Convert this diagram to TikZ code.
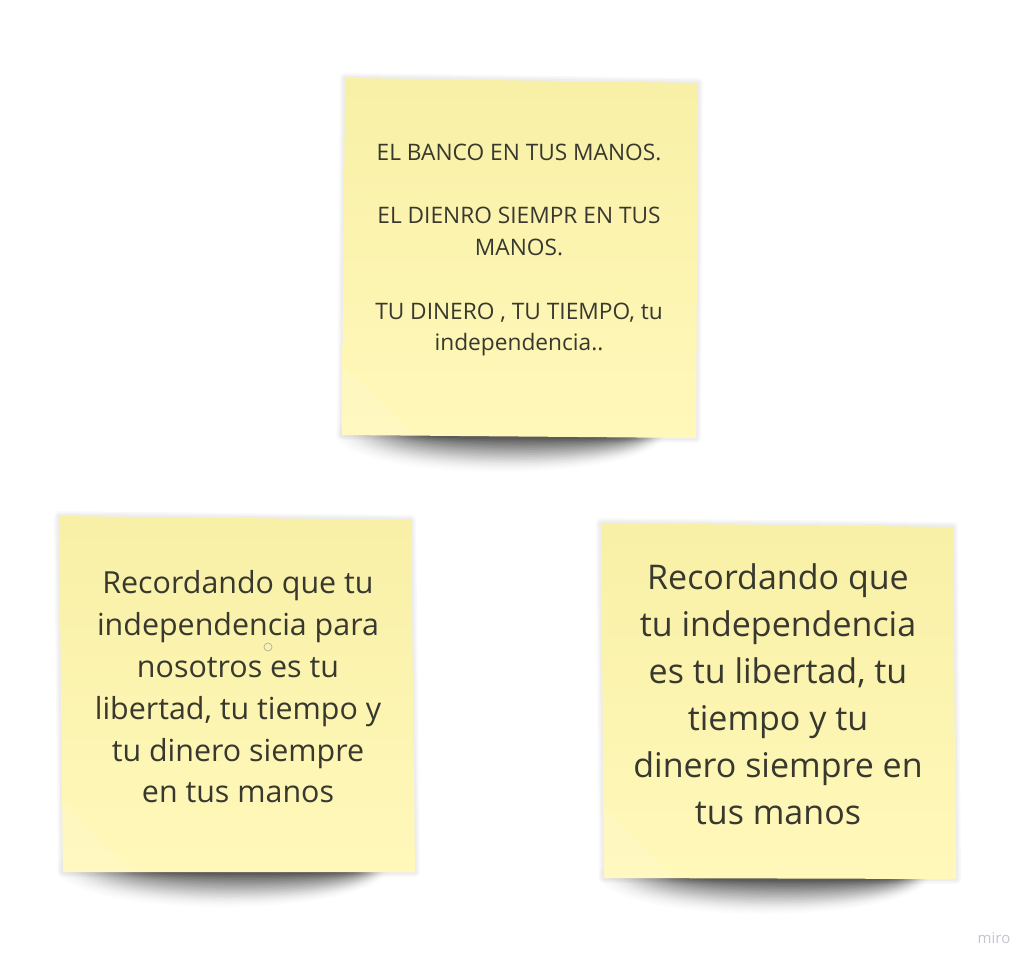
\documentclass[tikz,border=0pt]{standalone}
\usepackage{fontspec}
\setmainfont{Open Sans}
\definecolor{notetop}{HTML}{F8F0A6}
\definecolor{notebot}{HTML}{FFF8BA}
\definecolor{ink}{HTML}{38382E}
\definecolor{brand}{HTML}{C4C5CF}
\tikzset{
  sticky/.style={top color=notetop, bottom color=notebot, draw=none},
  stickytext/.style={align=center, text=ink, inner sep=0pt},
  halo/.style={draw=black, draw opacity=0.022, line join=round},
}
\newcommand{\noteshadow}[3]{% cx, y of bottom edge, half width
  \foreach \i in {0,...,19}{
    \fill[black, opacity={0.01+0.0035*\i}] ({#1+1.5*\i},{#2-3}) ellipse [x radius={#3-3*\i}, y radius={38-1.7*\i}];
  }
}
\newcommand{\curl}[2]{% bottom-left corner x, y
  \fill[white, opacity=0.12] (#1,#2-70) -- (#1+70,#2) -- (#1,#2) -- cycle;
}
\begin{document}
\begin{tikzpicture}[x=1pt,y=-1pt]
\useasboundingbox (0,0) rectangle (1034,966);
\fill[white] (0,0) rectangle (1034,966);
% shadows
\noteshadow{500}{437}{165}
\noteshadow{222}{872}{165}
\noteshadow{764}{879}{165}
% halos
\foreach \w in {10,7,4}{
  \draw[halo, line width=\w pt] (345,78) -- (698,83) -- (696,438) -- (342,435) -- cycle;
  \draw[halo, line width=\w pt] (59,516) -- (411,520) -- (415,872) -- (63,872) -- cycle;
  \draw[halo, line width=\w pt] (601,523) -- (953,527) -- (956,879) -- (604,878) -- cycle;
}
% notes
\path[sticky] (345,78) -- (698,83) -- (696,438) -- (342,435) -- cycle;
\path[sticky] (59,516) -- (411,520) -- (415,872) -- (63,872) -- cycle;
\path[sticky] (601,523) -- (953,527) -- (956,879) -- (604,878) -- cycle;
\curl{342}{435}
\curl{63}{872}
\curl{604}{878}
% texts
\node[stickytext, font=\fontsize{22.7}{31.8}\selectfont] (t1) at (519,250)
  {EL BANCO EN TUS MANOS.\\[31.8pt]EL DIENRO SIEMPR EN TUS\\MANOS.\\[31.8pt]TU DINERO , TU TIEMPO, tu\\independencia..};
\node[stickytext, font=\fontsize{30.4}{41.8}\selectfont] (t2) at (238,687)
  {Recordando que tu\\independencia para\\nosotros es tu\\libertad, tu tiempo y\\tu dinero siempre\\en tus manos};
\node[stickytext, font=\fontsize{34}{47}\selectfont] (t3) at (778,694)
  {Recordando que\\tu independencia\\es tu libertad, tu\\tiempo y tu\\dinero siempre en\\tus manos};
% cursor circle
\draw[gray!70, line width=0.6pt] (268,647) circle (4);
% brand
\node[text=brand, font=\fontsize{15}{17}\selectfont, inner sep=0pt] (miro) at (994,938) {miro};
\end{tikzpicture}
\end{document}
